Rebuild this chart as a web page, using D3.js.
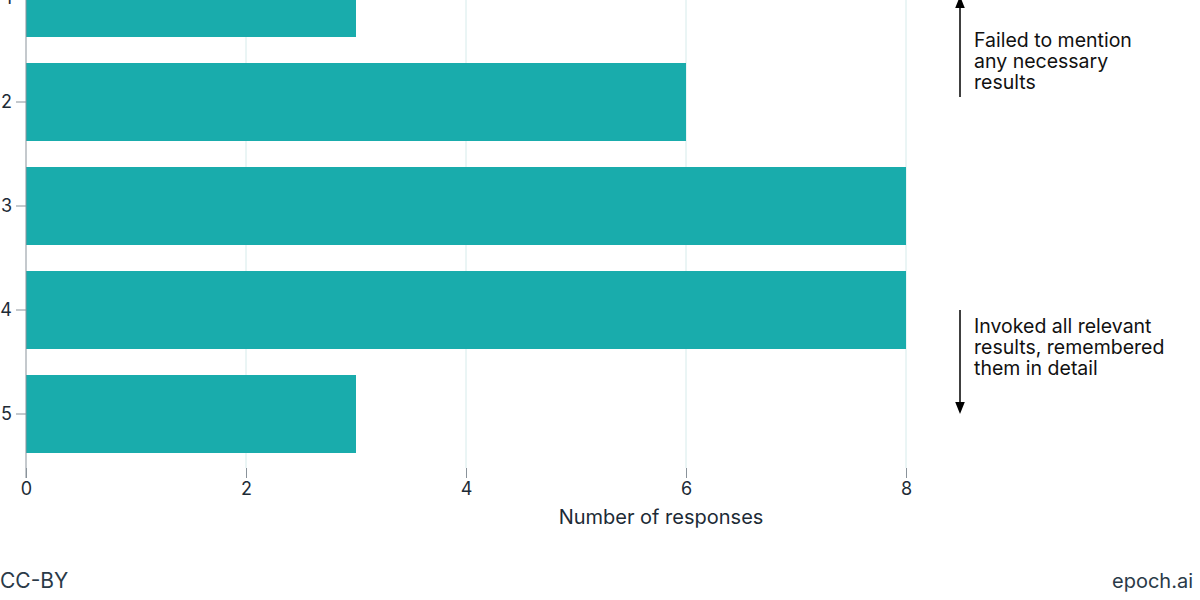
<!DOCTYPE html>
<html>
<head>
<meta charset="utf-8">
<script src="https://cdn.jsdelivr.net/npm/d3@7"></script>
<style>
  body { margin: 0; background: #fff; }
  svg { display: block; font-family: Inter, "Noto Sans", sans-serif; }
</style>
</head>
<body>
<div id="chart"></div>
<script>
(function () {

var scores = [1, 2, 3, 4, 5];
var responses = [3, 6, 8, 8, 3];
var xTicks = [0, 2, 4, 6, 8];
var topNote = ["Failed to mention", "any necessary", "results"];
var bottomNote = ["Invoked all relevant", "results, remembered", "them in detail"];

var width = 1200, height = 600;
var margin = {top: -54, left: 26, right: 294, bottom: 134};

var svg = d3.select('#chart')
            .append('svg')
            .attr("width", width)
            .attr("height", height);

var x = d3.scaleLinear()
          .domain([0, 8])
          .range([margin.left, width - margin.right]);

var y = d3.scaleBand()
          .domain(scores)
          .range([margin.top, height - margin.bottom])
          .paddingInner(0.25)
          .paddingOuter(0.125);

var textColor = "#1d2b36";

// grid
svg.append("g")
   .selectAll("line")
   .data(xTicks.filter(function(d) { return d > 0; }))
   .enter().append("line")
   .attr("x1", function(d) { return x(d); })
   .attr("x2", function(d) { return x(d); })
   .attr("y1", 0)
   .attr("y2", 468)
   .attr("stroke", "#d6ebeb")
   .attr("stroke-width", 1);

// bars
svg.append("g")
   .selectAll("rect")
   .data(scores)
   .enter().append("rect")
   .attr("x", x(0))
   .attr("y", function(d) { return y(d); })
   .attr("width", function(d, i) { return x(responses[i]) - x(0); })
   .attr("height", y.bandwidth())
   .attr("fill", "#19acac");

// x axis
var xAxis = svg.append("g")
   .attr("transform", "translate(0,468)")
   .call(d3.axisBottom(x).tickValues(xTicks).tickSize(10).tickPadding(4));
xAxis.select(".domain").remove();
xAxis.selectAll("line").attr("stroke", "#8a939b");
xAxis.selectAll("text")
     .attr("fill", textColor)
     .attr("font-size", 18)
     .attr("font-family", "Inter, 'Noto Sans', sans-serif");

// y axis
var yAxis = svg.append("g")
   .attr("transform", "translate(" + x(0) + ",0)")
   .call(d3.axisLeft(y).tickSize(10).tickPadding(4));
yAxis.select(".domain")
     .attr("d", "M0,0V478")
     .attr("stroke", "#8a939b");
yAxis.selectAll("line").attr("stroke", "#8a939b");
yAxis.selectAll("text")
     .attr("fill", textColor)
     .attr("font-size", 18)
     .attr("font-family", "Inter, 'Noto Sans', sans-serif");

svg.append("text")
   .attr("x", 661)
   .attr("y", 524)
   .attr("text-anchor", "middle")
   .attr("fill", textColor)
   .attr("font-size", 20)
   .text("Number of responses");

// annotations
var defs = svg.append("defs");
defs.append("marker")
    .attr("id", "head")
    .attr("viewBox", "0 0 10 10")
    .attr("refX", 5).attr("refY", 5)
    .attr("markerWidth", 8).attr("markerHeight", 8)
    .attr("orient", "auto")
    .append("path")
    .attr("d", "M0,1L10,5L0,9Z")
    .attr("fill", "#000");

svg.append("line")
   .attr("x1", 960).attr("x2", 960)
   .attr("y1", 97).attr("y2", 2)
   .attr("stroke", "#000").attr("stroke-width", 1.5)
   .attr("marker-end", "url(#head)");

svg.append("line")
   .attr("x1", 960).attr("x2", 960)
   .attr("y1", 310).attr("y2", 408)
   .attr("stroke", "#000").attr("stroke-width", 1.5)
   .attr("marker-end", "url(#head)");

function note(lines, y0) {
  svg.append("g").selectAll("text")
     .data(lines)
     .enter().append("text")
     .attr("x", 974)
     .attr("y", function(d, i) { return y0 + i * 21; })
     .attr("fill", "#111")
     .attr("font-size", 19.5)
     .text(function(d) { return d; });
}
note(topNote, 47);
note(bottomNote, 333);

svg.append("text")
   .attr("x", 0).attr("y", 588)
   .attr("fill", "#2a3a48")
   .attr("font-size", 21)
   .text("CC-BY");

svg.append("text")
   .attr("x", 1193).attr("y", 588)
   .attr("text-anchor", "end")
   .attr("fill", "#2a3a48")
   .attr("font-size", 20)
   .text("epoch.ai");

})();
</script>
</body>
</html>
